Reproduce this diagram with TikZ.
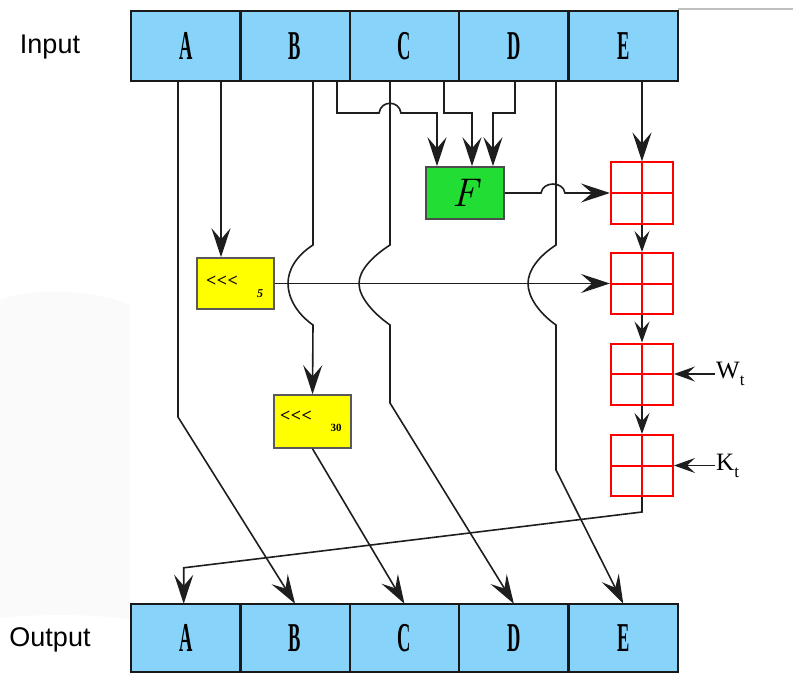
\documentclass[tikz,border=0pt]{standalone}
\usepackage{graphicx}
\usepackage{fontspec}
\setmainfont{Liberation Serif}
\newfontfamily\sidefont{Liberation Sans}
\newfontfamily\lmfont{Latin Modern Roman}
\usetikzlibrary{arrows.meta,calc}

\definecolor{regblue}{RGB}{136,211,250}
\definecolor{fgreen}{RGB}{34,221,51}
\definecolor{rotyellow}{RGB}{255,255,0}
\definecolor{wirecol}{RGB}{30,30,30}

% condensed register letter
\newcommand\reglabel[1]{\scalebox{0.45}[1]{\bfseries\fontsize{41}{41}\selectfont #1}}
% three rotation marks, kept apart so they are not joined into guillemets
\newcommand\rotmarks{<\kern0.5pt<\kern0.5pt<}

\begin{document}
\begin{tikzpicture}[x=1pt,y=-1pt,
  reg/.style={fill=regblue, minimum width=109.4pt, minimum height=70pt, inner sep=0pt},
  regline/.style={draw=black!90, line width=2pt},
  wire/.style={draw=wirecol, line width=1.6pt},
  big/.style={-{Stealth[length=29pt,width=19pt,inset=11pt]}},
  small/.style={-{Stealth[length=21pt,width=15pt,inset=8pt]}},
  rotbox/.style={draw=black!65, line width=1.5pt, fill=rotyellow, inner sep=0pt},
  rottext/.style={inner sep=0pt, font=\bfseries\fontsize{18}{18}\selectfont},
  adder/.style={draw=red, line width=2pt, minimum width=62pt, minimum height=61pt,
    inner sep=0pt, path picture={\draw[red,line width=2pt]
      (path picture bounding box.north) -- (path picture bounding box.south)
      (path picture bounding box.west) -- (path picture bounding box.east);}},
  side/.style={font=\sidefont\fontsize{27}{27}\selectfont},
  kw/.style={font=\fontsize{25}{25}\selectfont, inner sep=1pt, anchor=west}
]
\useasboundingbox (0,0) rectangle (793,674);

% faint backdrop on the left
\fill[black!2] (0,300) .. controls (40,285) and (100,292) .. (130,305) -- (130,620)
  .. controls (80,612) and (30,615) .. (0,618) -- cycle;
\fill[black!2] (0,430) .. controls (50,395) and (105,410) .. (130,440) -- (130,600)
  .. controls (90,592) and (40,598) .. (0,605) -- cycle;
\draw[black!25, line width=1.2pt] (678,9) -- (793,9);

% input and output registers
\foreach \l [count=\i] in {A,B,C,D,E}{
  \node[reg] (i\i) at ({131+109.4*(\i-0.5)},46) {\reglabel{\l}};
  \node[reg, minimum height=68pt] (o\i) at ({131+109.4*(\i-0.5)},638) {\reglabel{\l}};
}
\foreach \i in {1,...,5}{
  \draw[regline] (i\i.north west) rectangle (i\i.south east);
  \draw[regline] (o\i.north west) rectangle (o\i.south east);
}
\node[side] (lin) at (50,47) {Input};
\node[side] (lout) at (50,640) {Output};

% function block, rotations and adders
\node[draw=black!70, line width=1.5pt, fill=fgreen, minimum width=78pt, minimum height=52pt,
  inner sep=0pt] (F) at (465,193) {\lmfont\itshape\fontsize{40}{40}\selectfont F};
\node[rotbox, minimum width=77pt, minimum height=51pt] (r5) at (235.5,283.5) {};
\node[rottext] (r5t) at (222,281) {\rotmarks};
\node[inner sep=0pt, font=\itshape\bfseries\fontsize{12}{12}\selectfont] (r5s) at (260,294) {5};
\node[rotbox, minimum width=77pt, minimum height=53pt] (r30) at (312.5,421.5) {};
\node[rottext] (r30t) at (296,416) {\rotmarks};
\node[inner sep=0pt, font=\bfseries\fontsize{11}{11}\selectfont] (r30s) at (336,428) {30};

\node[adder] (a1) at (642,193) {};
\node[adder] (a2) at (642,283.5) {};
\node[adder] (a3) at (642,374) {};
\node[adder] (a4) at (642,465.5) {};
\node[kw] (wt) at (715,374) {W\raisebox{-0.28em}{\fontsize{17}{17}\selectfont t}};
\node[kw] (kt) at (715,465.5) {K\raisebox{-0.28em}{\fontsize{17}{17}\selectfont t}};

% column positions of the wires leaving the input registers
\coordinate (xA) at (178,0);
\coordinate (xA2) at (221,0);
\coordinate (xB) at (313,0);
\coordinate (xB2) at (337,0);
\coordinate (xC) at (390,0);
\coordinate (xC2) at (444,0);
\coordinate (xD) at (515,0);
\coordinate (xD2) at (556,0);

% A goes to B
\draw[wire,big] (i1.south -| xA) -- (178,417) -- (o2.north);
% A into the rotation by 5
\draw[wire,big] (i1.south -| xA2) -- (r5.north -| xA2);
% B into the rotation by 30, stepping round the rotated A
\draw[wire,big] (i2.south -| xB) -- (313,245)
  .. controls (296,256) and (288,270) .. (288,283.5)
  .. controls (288,297) and (296,313) .. (313,325) -- (r30.north);
\draw[wire,big] (r30.south) -- (o3.north);
% C goes to D
\draw[wire,big] (i3.south -| xC) -- (390,245)
  .. controls (373,256) and (359,270) .. (359,283.5)
  .. controls (359,297) and (373,313) .. (390,325) -- (390,403) -- (o4.north);
% D goes to E
\draw[wire,big] (i4.south -| xD2) -- (556,245)
  .. controls (539,256) and (528,270) .. (528,283.5)
  .. controls (528,297) and (539,313) .. (556,325) -- (556,470) -- (o5.north);

% B, C, D into F
\draw[wire,big] (i2.south -| xB2) -- (337,113) -- (379,113)
  .. controls (381,100) and (399,100) .. (401,113) -- (437,113) -- ($(F.north)+(-28,0)$);
\draw[wire,big] (i3.south -| xC2) -- (444,113) -- (472,113) -- ($(F.north)+(7,0)$);
\draw[wire,big] (i4.south -| xD) -- (515,113) -- (493,113) -- ($(F.north)+(28,0)$);

% E and F into the first adder
\draw[wire,big] (i5.south -| a1.north) -- (a1.north);
\draw[wire,big] (F.east) -- (541,193) .. controls (543,181) and (563,181) .. (565,193) -- (a1.west);
% rotated A into the second adder
\draw[wire,big] (r5.east) -- (a2.west);

% adder chain with W_t and K_t
\draw[wire,small] (a1.south) -- (a2.north);
\draw[wire,small] (a2.south) -- (a3.north);
\draw[wire,small] (a3.south) -- (a4.north);
\draw[wire,small] (wt.west) -- (a3.east);
\draw[wire,small] (kt.west) -- (a4.east);

% sum goes to A
\draw[wire,big] (a4.south) -- ++(0,15) -- ($(o1.north)+(-2,-36)$) -- ($(o1.north)+(-2,0)$);
\end{tikzpicture}
\end{document}
